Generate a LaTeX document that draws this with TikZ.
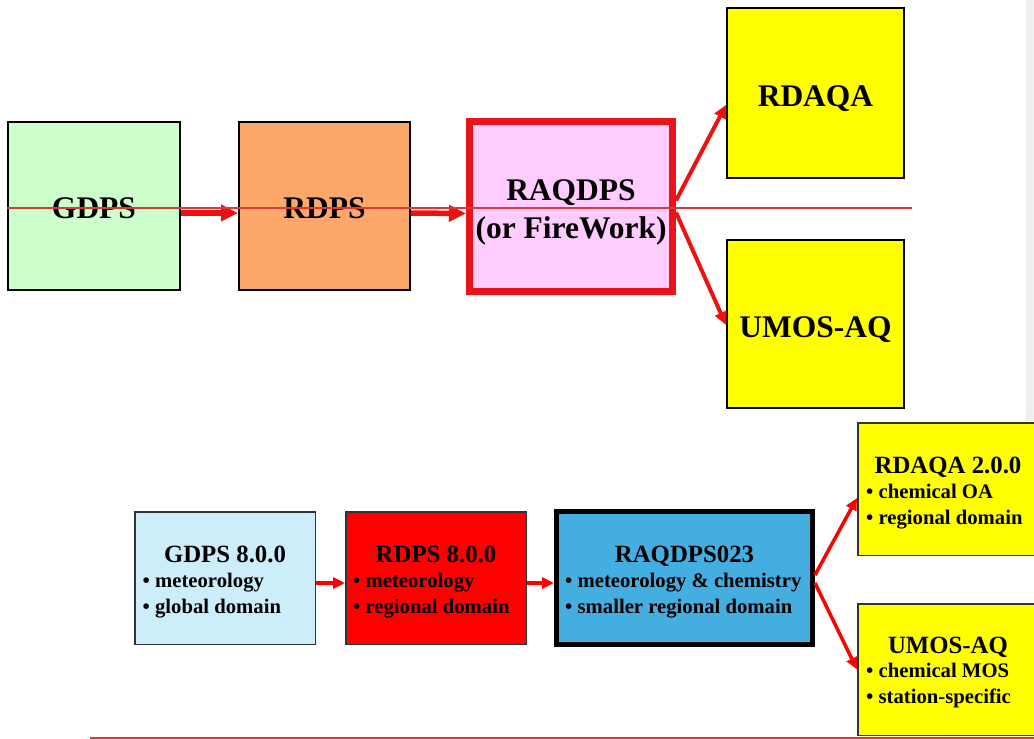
\documentclass[tikz,border=0pt]{standalone}
\usepackage{fontspec}
\setmainfont{Liberation Serif}
\usetikzlibrary{arrows.meta}
\definecolor{gdpsgreen}{HTML}{CCFFCC}
\definecolor{rdpsorange}{HTML}{FBA86A}
\definecolor{raqpink}{HTML}{FFCCFF}
\definecolor{boxred}{HTML}{E8141A}
\definecolor{arrred}{HTML}{EE1111}
\definecolor{pureyellow}{HTML}{FFFF00}
\definecolor{lightblue}{HTML}{CCEEFA}
\definecolor{skyblue}{HTML}{45AEE0}
\definecolor{purered}{HTML}{FF0000}
\definecolor{overlayred}{HTML}{D93A3A}
\definecolor{stripgrey}{HTML}{F0F0F0}
\definecolor{edgegrey}{HTML}{333333}
\tikzset{
  bigbox/.style={draw=black, line width=2pt, inner sep=0pt},
  smallbox/.style={draw=edgegrey, line width=1.5pt, inner sep=0pt},
  bigtxt/.style={anchor=base, inner sep=0pt, font=\fontsize{31.5}{36}\selectfont\bfseries},
  titletxt/.style={anchor=base, inner sep=0pt, font=\fontsize{24.8}{30}\selectfont\bfseries},
  bullettxt/.style={anchor=base west, inner sep=0pt, align=left, font=\fontsize{20.7}{25.2}\selectfont\bfseries},
  thickarrow/.style={draw=arrred, line width=5.5pt, -{Triangle[length=17pt,width=16pt]}},
  midarrow/.style={draw=arrred, line width=4pt, -{Triangle[length=13pt,width=12pt]}},
  thinarrow/.style={draw=purered, line width=3.5pt, -{Triangle[length=12pt,width=11pt]}},
}
\begin{document}
\begin{tikzpicture}[x=1pt, y=-1pt]
\useasboundingbox (0,0) rectangle (1034,739);
\begin{scope}
\clip (0,0) rectangle (1034,739);
% grey strip at right
\fill[stripgrey] (1026,0) rectangle (1034,421);

% ---------- top row ----------
\node[bigbox, fill=gdpsgreen, minimum width=172pt, minimum height=168pt] (gdps) at (94,206) {};
\node[bigbox, fill=rdpsorange, minimum width=171pt, minimum height=168pt] (rdps) at (324.5,206) {};
\node[draw=boxred, line width=7pt, fill=raqpink, inner sep=0pt, minimum width=203pt, minimum height=170pt] (raq) at (571,206.5) {};
\node[bigbox, fill=pureyellow, minimum width=177pt, minimum height=170pt] (rdaqa) at (815.5,93) {};
\node[bigbox, fill=pureyellow, minimum width=177pt, minimum height=168pt] (umos) at (815.5,324) {};

\node[bigtxt] (gdpsT) at (94,218) {GDPS};
\node[bigtxt] (rdpsT) at (324.5,218) {RDPS};
\node[bigtxt] (raqT1) at (571,200) {RAQDPS};
\node[bigtxt] (raqT2) at (571,238) {(or FireWork)};
\node[bigtxt] (rdaqaT) at (815.5,106) {RDAQA};
\node[bigtxt] (umosT) at (815.5,337) {UMOS-AQ};

\draw[thickarrow] ([yshift=-7pt]gdps.east) -- ([yshift=-7pt]rdps.west);
\draw[thickarrow] ([yshift=-7pt]rdps.east) -- ([yshift=-7pt]raq.west);
\draw[midarrow] ([yshift=6pt]raq.east) -- ([yshift=-12pt]rdaqa.west);
\draw[midarrow] ([yshift=-6pt]raq.east) -- ([yshift=-1pt]umos.west);

% ---------- bottom row ----------
\node[smallbox, fill=lightblue, minimum width=180.5pt, minimum height=132.5pt] (gdps8) at (225,578) {};
\node[smallbox, fill=purered, minimum width=180.5pt, minimum height=132.5pt] (rdps8) at (436,578) {};
\node[draw=black, line width=5pt, fill=skyblue, inner sep=0pt, minimum width=256pt, minimum height=133pt] (raq23) at (684.5,578) {};
\node[smallbox, fill=pureyellow, minimum width=181.5pt, minimum height=132.5pt] (rdaqa2) at (948.5,489) {};
\node[smallbox, fill=pureyellow, minimum width=181.5pt, minimum height=131.5pt] (umos2) at (948.5,669.5) {};

\node[titletxt] (gdps8T) at (225,562) {GDPS 8.0.0};
\node[bullettxt] (gdps8B) at (142.5,613) {\textbullet\ meteorology\\\textbullet\ global domain};
\node[titletxt] (rdps8T) at (436,562) {RDPS 8.0.0};
\node[bullettxt] (rdps8B) at (353,613) {\textbullet\ meteorology\\\textbullet\ regional domain};
\node[titletxt] (raq23T) at (684.5,562) {RAQDPS023};
\node[bullettxt] (raq23B) at (565,613) {\textbullet\ meteorology \& chemistry\\\textbullet\ smaller regional domain};
\node[titletxt] (rdaqa2T) at (948,473) {RDAQA 2.0.0};
\node[bullettxt] (rdaqa2B) at (866,524) {\textbullet\ chemical OA\\\textbullet\ regional domain};
\node[titletxt] (umos2T) at (948,653) {UMOS-AQ};
\node[bullettxt] (umos2B) at (866,703) {\textbullet\ chemical MOS\\\textbullet\ station-specific};

\draw[thinarrow] ([yshift=-5pt]gdps8.east) -- ([yshift=-5pt]rdps8.west);
\draw[thinarrow] ([yshift=-5pt]rdps8.east) -- ([yshift=-5pt]raq23.west);
\draw[thinarrow] ([yshift=3pt]raq23.east) -- ([yshift=-9pt]rdaqa2.west);
\draw[thinarrow] ([yshift=-5pt]raq23.east) -- ([yshift=0pt]umos2.west);

% ---------- overlay lines ----------
\coordinate (topL) at (7,208);
\coordinate (topR) at (912,208);
\coordinate (botL) at (90,738);
\coordinate (botR) at (1034,738);
\draw[overlayred, line width=2.5pt] (topL) -- (topR);
\draw[overlayred, line width=1.5pt] (botL) -- (botR);
\end{scope}
\end{tikzpicture}
\end{document}
